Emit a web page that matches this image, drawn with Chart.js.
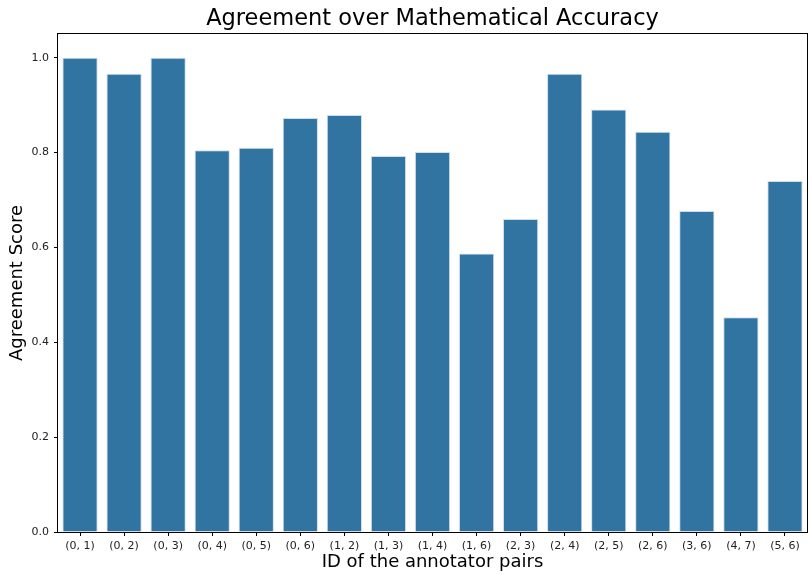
<!DOCTYPE html>
<html>
<head>
<meta charset="utf-8">
<script src="https://cdn.jsdelivr.net/npm/chart.js@4/dist/chart.umd.min.js"></script>
<style>
  html, body { margin: 0; padding: 0; background: #fff; }
  #wrap { width: 809px; height: 575px; }
</style>
</head>
<body>
<div id="wrap"><canvas id="myChart" width="809" height="575"></canvas></div>
<script>
// Data
let pairLabels = ['(0, 1)', '(0, 2)', '(0, 3)', '(0, 4)', '(0, 5)', '(0, 6)', '(1, 2)', '(1, 3)', '(1, 4)',
    '(1, 6)', '(2, 3)', '(2, 4)', '(2, 5)', '(2, 6)', '(3, 6)', '(4, 7)', '(5, 6)'];
let agreementScores = [1.0, 0.966, 1.0, 0.805, 0.810, 0.873, 0.879, 0.793, 0.801,
    0.587, 0.660, 0.966, 0.891, 0.844, 0.677, 0.453, 0.740];
let yTicks = [0.0, 0.2, 0.4, 0.6, 0.8, 1.0];

// Draws the full box around the plot like matplotlib spines
let frameBox = {
    id: 'frameBox',
    afterDraw: (chart) => {
        let { ctx, chartArea } = chart;
        ctx.save();
        ctx.strokeStyle = '#000';
        ctx.lineWidth = 1;
        ctx.strokeRect(Math.round(chartArea.left) - 0.5, Math.round(chartArea.top) - 0.5,
            Math.round(chartArea.right - chartArea.left) + 1, Math.round(chartArea.bottom - chartArea.top) + 1);
        ctx.restore();
    }
};

let ctx = document.getElementById('myChart').getContext('2d');
let chart = new Chart(ctx, {
    type: 'bar',
    data: {
        labels: pairLabels,
        datasets: [{
            data: agreementScores,
            backgroundColor: '#3274a1',
            borderColor: 'rgba(170,200,225,0.6)',
            borderWidth: 1,
            barPercentage: 0.8,
            categoryPercentage: 1.0
        }]
    },
    options: {
        responsive: false,
        animation: false,
        layout: { padding: { top: 0, right: 2, left: 0, bottom: 0 } },
        plugins: {
            legend: { display: false },
            tooltip: { enabled: false },
            title: {
                display: true,
                text: 'Agreement over Mathematical Accuracy',
                fullSize: false,
                color: '#000',
                font: { family: 'DejaVu Sans', size: 22.5, weight: 'normal' },
                padding: { top: 6, bottom: 1 }
            }
        },
        scales: {
            x: {
                afterFit: (scale) => { scale.height = 43; },
                grid: { display: true, offset: false, drawOnChartArea: false, drawTicks: true, tickLength: 4, color: '#000' },
                border: { display: false },
                ticks: {
                    color: '#222',
                    padding: 4,
                    maxRotation: 0,
                    autoSkip: false,
                    font: { family: 'DejaVu Sans', size: 11 }
                },
                title: {
                    display: true,
                    text: 'ID of the annotator pairs',
                    color: '#000',
                    font: { family: 'DejaVu Sans', size: 18 },
                    padding: { top: 0, bottom: 2 }
                }
            },
            y: {
                min: 0,
                max: 1.05,
                afterFit: (scale) => { scale.width = 58; },
                afterBuildTicks: (scale) => { scale.ticks = yTicks.map(v => ({ value: v })); },
                grid: { display: true, drawOnChartArea: false, drawTicks: true, tickLength: 4, color: '#000' },
                border: { display: false },
                ticks: {
                    color: '#222',
                    padding: 5,
                    font: { family: 'DejaVu Sans', size: 11 },
                    callback: (v) => Number(v).toFixed(1)
                },
                title: {
                    display: true,
                    text: 'Agreement Score',
                    color: '#000',
                    font: { family: 'DejaVu Sans', size: 18 },
                    padding: { top: 7, bottom: 0 }
                }
            }
        }
    },
    plugins: [frameBox]
});
</script>
</body>
</html>
